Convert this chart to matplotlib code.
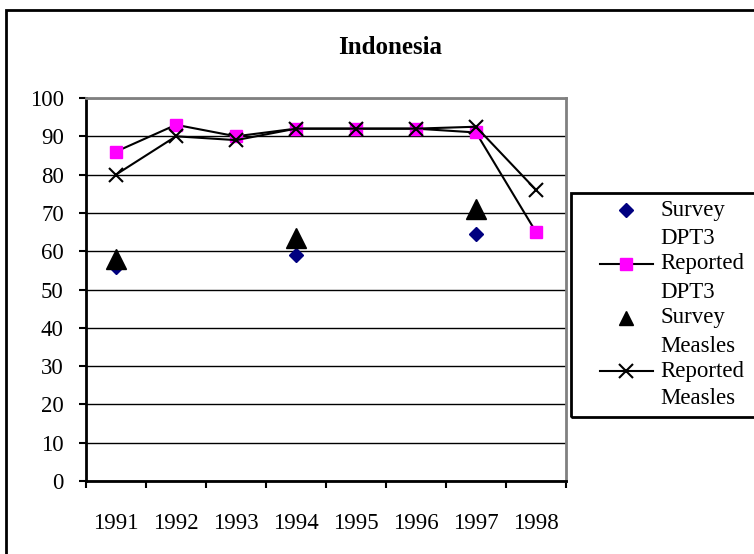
import numpy as np
import matplotlib
matplotlib.use("Agg")
import matplotlib.pyplot as plt
from matplotlib import patches
from matplotlib.lines import Line2D

plt.rcParams['font.family'] = ['Liberation Serif', 'DejaVu Serif']

# data
years = ["1991", "1992", "1993", "1994", "1995", "1996", "1997", "1998"]
survey_dpt3 = [56, np.nan, np.nan, 59, np.nan, np.nan, 64.5, np.nan]
reported_dpt3 = [86, 93, 90, 92, 92, 92, 91, 65]
survey_measles = [58, np.nan, np.nan, 63.5, np.nan, np.nan, 71, np.nan]
reported_measles = [80, 90, 89, 92, 92, 92, 92.5, 76]
series_labels = ["Survey\nDPT3", "Reported\nDPT3", "Survey\nMeasles", "Reported\nMeasles"]

W, H = 754, 554
fig = plt.figure(figsize=(W / 100, H / 100), dpi=100)
ax = fig.add_axes([86 / W, 1 - 481 / H, (566 - 86) / W, (481 - 98) / H])

x = np.arange(len(years))
styles = [
    dict(ls="none", marker="D", ms=7, mfc="#000080", mec="#000080"),
    dict(ls="-", color="black", lw=1.5, marker="s", ms=8, mfc="#ff00ff", mec="#ff00ff"),
    dict(ls="none", marker="^", ms=15, mfc="black", mec="black"),
    dict(ls="-", color="black", lw=1.5, marker="x", ms=10, mew=1.5, mec="black"),
]
for vals, st in zip([survey_dpt3, reported_dpt3, survey_measles, reported_measles], styles):
    ax.plot(x, vals, zorder=3, clip_on=False, **st)

# 軸
ax.set_xlim(-0.5, len(years) - 0.5)
ax.set_ylim(0, 100)
ax.set_yticks(np.arange(0, 101, 10))
ax.yaxis.grid(True, color="black", lw=1)
ax.set_axisbelow(True)
ax.set_xticks(np.arange(-0.5, len(years), 1.0))
ax.set_xticklabels([])
ax.set_xticks(x, minor=True)
ax.set_xticklabels(years, minor=True)
ax.tick_params(axis="x", which="minor", length=0, pad=23, labelsize=16.5)
ax.tick_params(axis="x", which="major", length=5, width=1.5, direction="out")
ax.tick_params(axis="y", length=5, width=1.5, direction="out", labelsize=16.5, pad=11)
for s in ["left", "bottom"]:
    ax.spines[s].set_linewidth(2)
    ax.spines[s].set_color("black")
for s in ["top", "right"]:
    ax.spines[s].set_linewidth(2)
    ax.spines[s].set_color("#808080")

fig.text(390 / W, 1 - 47 / H, "Indonesia", ha="center", va="center",
         fontsize=18, fontweight="bold")

# 外枠
fig.patches.append(patches.Rectangle((6 / W, -0.1), 1.1, 1 - 10 / H + 0.1,
                                     transform=fig.transFigure, fill=False,
                                     ec="black", lw=2))

# 凡例（手描き）
fig.patches.append(patches.Rectangle((571 / W, 1 - 417 / H), 0.5, (417 - 193) / H,
                                     transform=fig.transFigure, fill=False,
                                     ec="black", lw=2))
entry_y = [210, 264, 318, 371]
for lab, st, yy in zip(series_labels, styles, entry_y):
    yf = 1 - yy / H
    if st["ls"] == "-":
        fig.lines.append(Line2D([600 / W, 653 / W], [yf, yf], transform=fig.transFigure,
                                color="black", lw=1.5))
    mst = {k: v for k, v in st.items() if k not in ("ls", "lw", "color")}
    if mst["marker"] == "^":
        mst["ms"] = 10
    fig.lines.append(Line2D([626 / W], [yf], transform=fig.transFigure, ls="none", **mst))
    top, bottom = lab.split("\n")
    fig.text(660 / W, yf, top, ha="left", va="center", fontsize=16.5)
    fig.text(660 / W, 1 - (yy + 28) / H, bottom, ha="left", va="center", fontsize=16.5)

fig.savefig("out.png", dpi=100)
